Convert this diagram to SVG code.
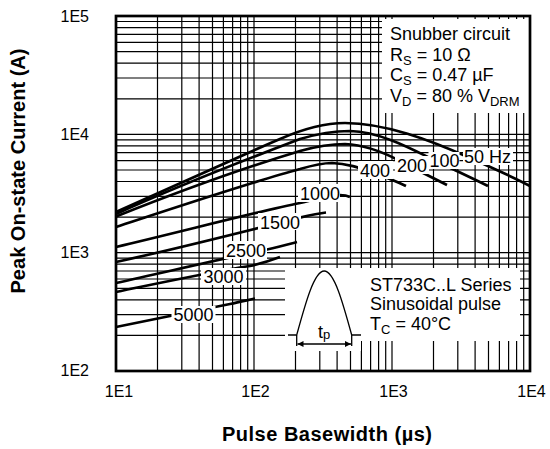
<svg xmlns="http://www.w3.org/2000/svg" width="550" height="449" viewBox="0 0 550 449">
<style>
text{font-family:"Liberation Sans",Arial,Helvetica,sans-serif;fill:#000}
.grid{stroke:#000;stroke-width:1.2;fill:none}
.curve{stroke:#000;stroke-width:2.7;fill:none}
.lbl{font-size:18px}
.tick{font-size:16px}
.title{font-size:20px;font-weight:bold}
.bg{fill:#fff;stroke:none}
.thin{stroke:#000;stroke-width:1.3;fill:none}
</style>
<defs>
<marker id="ah" viewBox="0 0 10 10" refX="10" refY="5" markerWidth="8" markerHeight="6" markerUnits="userSpaceOnUse" orient="auto-start-reverse">
<path d="M0,0 L10,5 L0,10 z" fill="#000"/>
</marker>
</defs>
<rect width="550" height="449" fill="#fff"/>
<g id="grid" class="grid">
<path d="M157.5,16V371M181.8,16V371M199.1,16V371M212.5,16V371M223.4,16V371M232.6,16V371M240.6,16V371M247.7,16V371M254,16V371M295.5,16V371M319.8,16V371M337.1,16V371M350.5,16V371M361.4,16V371M370.6,16V371M378.6,16V371M385.7,16V371M392,16V371M433.5,16V371M457.8,16V371M475.1,16V371M488.5,16V371M499.4,16V371M508.6,16V371M516.6,16V371M523.7,16V371"/>
<path d="M116,335.4H530M116,314.6H530M116,299.8H530M116,288.3H530M116,279H530M116,271H530M116,264.2H530M116,258.1H530M116,252.7H530M116,217.1H530M116,196.3H530M116,181.5H530M116,170H530M116,160.7H530M116,152.7H530M116,145.9H530M116,139.8H530M116,134.4H530M116,98.8H530M116,78H530M116,63.2H530M116,51.7H530M116,42.4H530M116,34.4H530M116,27.6H530M116,21.5H530"/>
</g>
<g id="legend-bg">
<rect class="bg" x="382" y="19" width="147" height="94"/>
<rect class="bg" x="285" y="268" width="76" height="83"/>
<rect class="bg" x="360" y="268" width="160" height="73"/>
</g>
<g id="connectors">
<path id="c50" class="curve" d="M116,212 C170,188 240,156 280,139 C305,128 325,123 345,123 C385,123 430,140 470,158 C495,169 515,178 530,186"/>
<path id="c100" class="curve" d="M116,214 C180,185 250,158 300,139 C320,133 335,131 350,131 C380,132 410,148 430,158 C450,168 470,177 488,186"/>
<path id="c200" class="curve" d="M116,216.5 C180,191 250,166 300,151 C318,146 332,144 345,144 C365,145 385,153 400,161 C415,169 435,179 447,185"/>
<path id="c400" class="curve" d="M116,227 C180,206 255,181 300,169 C312,165.5 322,163 332,163 C350,163.5 365,170 380,175 C390,179 400,183 406,186"/>
<path id="c1000" class="curve" d="M116,247 C180,232 260,211 300,203 C320,198 330,195 340,195 C345,195 348,196 350,197"/>
<path id="c1500" class="curve" d="M116,262 C180,248 250,230 290,220 C305,216.5 316,213.5 326,212.5"/>
<path id="c2500" class="curve" d="M116,283 C170,271 230,257 260,251 C275,248 287,244.5 297,242"/>
<path id="c3000" class="curve" d="M116,292 C160,283 210,272 250,266 C262,263.5 272,260 280,257"/>
<path id="c5000" class="curve" d="M116,327 C150,320 200,310 230,304 C240,302 248,300 255,298.5"/>
</g>
<g id="curve-labels" class="lbl">
<g id="l1000"><rect class="bg" x="298" y="184" width="42" height="18"/><text x="300" y="200">1000</text></g>
<g id="l1500"><rect class="bg" x="258" y="213" width="43" height="17"/><text x="260" y="228.5">1500</text></g>
<g id="l2500"><rect class="bg" x="224" y="241" width="43" height="18"/><text x="226" y="256.7">2500</text></g>
<g id="l3000"><rect class="bg" x="201" y="268" width="45" height="17"/><text x="203.5" y="283.3">3000</text></g>
<g id="l5000"><rect class="bg" x="171.5" y="306" width="44" height="17"/><text x="173.5" y="320.7">5000</text></g>
<g id="l400"><rect class="bg" x="358" y="161" width="35" height="18"/><text x="360" y="176.7">400</text></g>
<g id="l200"><rect class="bg" x="395" y="156" width="34" height="18"/><text x="397" y="171.7">200</text></g>
<g id="l100"><rect class="bg" x="428.5" y="152" width="31" height="17"/><text x="429.5" y="167.3">100</text></g>
<g id="l50"><rect class="bg" x="463" y="148" width="50" height="17"/><text x="464" y="163.3">50 Hz</text></g>
</g>
<rect id="frame" x="116" y="16" width="414" height="355" fill="none" stroke="#000" stroke-width="2.7"/>
<g id="legend" class="lbl">
<text x="390" y="40">Snubber circuit</text>
<text x="390" y="60.5">R<tspan font-size="13" dy="4">S</tspan><tspan dy="-4"> = 10 Ω</tspan></text>
<text x="390" y="81">C<tspan font-size="13" dy="4">S</tspan><tspan dy="-4"> = 0.47 µF</tspan></text>
<text x="390" y="101.5">V<tspan font-size="13" dy="4">D</tspan><tspan dy="-4"> = 80 % V</tspan><tspan font-size="13" dy="4">DRM</tspan></text>
</g>
<g id="inset">
<path class="thin" d="M288,335H296.7M351.7,335H361M296.7,335V346M351.7,335V346"/>
<path class="thin" d="M296.7,335 C305.7,302.2 314.3,271 324.2,271 C334.1,271 342.7,302.2 351.7,335"/>
<line class="thin" x1="297.5" y1="344" x2="351" y2="344" marker-start="url(#ah)" marker-end="url(#ah)"/>
<text class="lbl" x="318" y="338">t<tspan font-size="13" dy="1">p</tspan></text>
<text class="lbl" x="370" y="290.7">ST733C..L Series</text>
<text class="lbl" x="370" y="310.3">Sinusoidal pulse</text>
<text class="lbl" x="370" y="330">T<tspan font-size="13" dy="4">C</tspan><tspan dy="-4"> = 40°C</tspan></text>
</g>
<g id="axes" class="tick">
<text x="89" y="21.7" text-anchor="end">1E5</text>
<text x="89" y="139.6" text-anchor="end">1E4</text>
<text x="89" y="258" text-anchor="end">1E3</text>
<text x="89" y="376.3" text-anchor="end">1E2</text>
<text x="119" y="397" text-anchor="middle">1E1</text>
<text x="255.5" y="397" text-anchor="middle">1E2</text>
<text x="393.5" y="397" text-anchor="middle">1E3</text>
<text x="531.5" y="397" text-anchor="middle">1E4</text>
<text class="title" x="327" y="441" text-anchor="middle" textLength="210" lengthAdjust="spacing">Pulse Basewidth (µs)</text>
<text class="title" transform="translate(25,171) rotate(-90)" text-anchor="middle" textLength="245" lengthAdjust="spacing">Peak On-state Current (A)</text>
</g>
</svg>
